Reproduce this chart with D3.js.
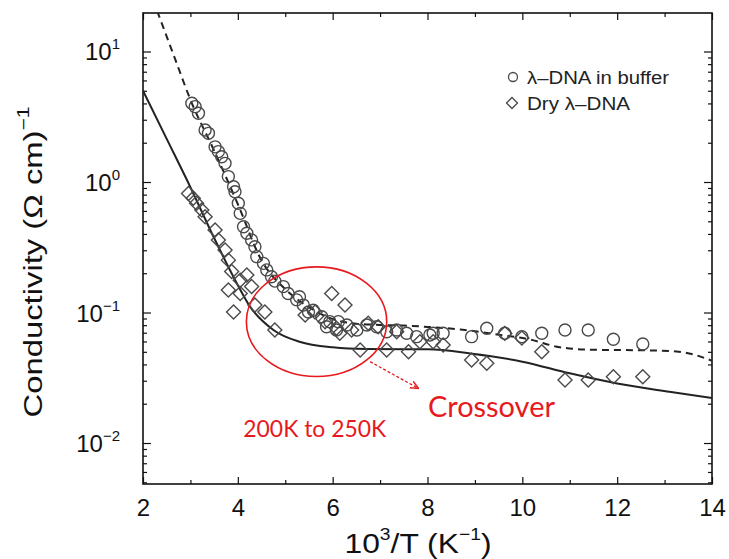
<!DOCTYPE html>
<html><head><meta charset="utf-8">
<script src="https://cdn.jsdelivr.net/npm/d3@7"></script>
<style>
body{margin:0;background:#fff}
svg{display:block;font-family:"Liberation Sans",Arial,Helvetica,sans-serif}
</style>
</head><body><svg id="c" width="729" height="559"></svg>
<script>
// ---- data ----
const bufferX = [3.03,3.10,3.17,3.31,3.38,3.52,3.59,3.66,3.73,3.80,3.91,3.94,4.01,4.05,4.12,4.19,4.29,4.36,4.40,4.54,4.61,4.71,4.78,4.96,5.06,5.24,5.30,5.38,5.49,5.59,5.77,5.87,5.94,6.08,6.12,6.30,6.51,6.72,6.93,7.14,7.35,7.56,7.77,8.05,8.12,8.33,8.93,9.25,9.63,9.99,10.41,10.90,11.39,11.92,12.54];
const bufferY = [4.01,3.78,3.36,2.50,2.36,1.86,1.71,1.56,1.39,1.10,0.92,0.843,0.687,0.575,0.454,0.405,0.360,0.319,0.268,0.238,0.212,0.188,0.174,0.158,0.140,0.125,0.132,0.114,0.101,0.104,0.0929,0.0778,0.0851,0.0735,0.0851,0.0802,0.0735,0.0802,0.0778,0.0713,0.0735,0.0693,0.0653,0.0673,0.0693,0.0693,0.0653,0.0757,0.0693,0.0653,0.0693,0.0735,0.0735,0.0624,0.0574];
const dryX = [2.96,3.06,3.13,3.24,3.31,3.52,3.59,3.73,3.80,3.87,3.80,3.91,4.05,4.19,4.29,4.05,4.36,4.57,4.78,5.42,5.63,5.98,6.26,5.84,6.08,6.15,6.40,6.58,6.75,6.96,7.14,7.35,7.60,7.84,8.12,8.33,8.93,9.25,9.63,9.99,10.41,10.90,11.39,11.92,12.54];
const dryY = [0.818,0.750,0.687,0.610,0.542,0.429,0.360,0.301,0.252,0.206,0.149,0.101,0.177,0.194,0.158,0.140,0.114,0.101,0.0735,0.0957,0.101,0.140,0.114,0.0851,0.0757,0.0693,0.0735,0.0516,0.0826,0.0778,0.0516,0.0713,0.0501,0.0597,0.0597,0.0564,0.0433,0.0408,0.0692,0.0638,0.0501,0.0304,0.0304,0.0322,0.0322];
const fitBufferX = [2.3,2.7,3.0,3.5,4.0,4.5,5.0,5.5,6.0,6.5,7.0,7.5,8.0,8.7,9.5,10.2,10.7,11.4,12.6,13.3,14.0];
const fitBufferY = [20.4,8.32,4.27,1.74,0.676,0.251,0.151,0.110,0.0891,0.0822,0.0804,0.0794,0.0776,0.0741,0.0676,0.0617,0.0550,0.0519,0.0513,0.0501,0.0427];
const fitDryX = [2.0,2.5,3.0,3.5,4.0,4.25,4.75,5.3,6.0,6.7,8.0,8.9,10.0,11.0,12.0,13.1,14.0];
const fitDryY = [5.01,2.14,0.912,0.372,0.162,0.112,0.0735,0.0597,0.0541,0.0525,0.0522,0.0486,0.0420,0.0342,0.0286,0.0247,0.0221];
const xTicks = [2,4,6,8,10,12,14];
const xMinor = [3,5,7,9,11,13];
const yTicks = [0.01,0.1,1,10];
const yTickExp = ["\u22122","\u22121","0","1"];
const legendLabels = ["\u03bb\u2013DNA in buffer","Dry \u03bb\u2013DNA"];
const ellipseCenter = [5.66, 0.0851];
const ellipseHalfWidth = 1.48;   // in x units
const ellipseHalfHeightDec = 0.42; // in decades
const arrowFrom = [6.79, 0.042], arrowTo = [7.81, 0.0262];
const crossoverLabel = "Crossover", crossoverPos = [8.01, 0.0159];
const rangeLabel = "200K to 250K", rangePos = [4.115, 0.01117];

// ---- scales ----
const svg = d3.select("#c");
const x = d3.scaleLinear().domain([2,14]).range([143,712]);
const y = d3.scaleLog().domain([Math.pow(10,-2.314), Math.pow(10,1.295)]).range([484,13]);
const [x0,x1] = x.range(), [yb,yt] = y.range();

const defs = svg.append("defs");
defs.append("clipPath").attr("id","clip").append("rect")
  .attr("x",x0).attr("y",yt).attr("width",x1-x0).attr("height",yb-yt);
defs.append("marker").attr("id","arr").attr("viewBox","0 0 10 10").attr("refX",9).attr("refY",5)
  .attr("markerWidth",7).attr("markerHeight",7).attr("orient","auto")
  .append("path").attr("d","M0,1 L9,5 L0,9").attr("fill","none").attr("stroke","#e8191d").attr("stroke-width",1.6);

// minor y ticks
const yMinor = [];
for (let e=-3;e<=1;e++) for (let k=2;k<=9;k++){const v=k*Math.pow(10,e); if(v>y.domain()[0]&&v<y.domain()[1]) yMinor.push(v);}

function styleAxis(g){ g.select(".domain").remove(); g.selectAll("line").attr("stroke","#111").attr("stroke-width",1.2); }

svg.append("g").attr("transform",`translate(0,${yb})`).call(d3.axisBottom(x).tickValues(xTicks).tickSize(-7).tickSizeOuter(0).tickPadding(15).tickFormat(d3.format("d"))).call(styleAxis)
  .selectAll("text").attr("font-size",24).attr("fill","#111").attr("font-family","Liberation Sans, Arial, sans-serif");
svg.append("g").attr("transform",`translate(0,${yb})`).call(d3.axisBottom(x).tickValues(xMinor).tickSize(-4).tickFormat("")).call(styleAxis);
svg.append("g").attr("transform",`translate(0,${yt})`).call(d3.axisTop(x).tickValues(xTicks).tickSize(-7).tickFormat("")).call(styleAxis);
svg.append("g").attr("transform",`translate(0,${yt})`).call(d3.axisTop(x).tickValues(xMinor).tickSize(-4).tickFormat("")).call(styleAxis);
svg.append("g").attr("transform",`translate(${x0},0)`).call(d3.axisLeft(y).tickValues(yTicks).tickSize(-8).tickFormat("")).call(styleAxis);
svg.append("g").attr("transform",`translate(${x0},0)`).call(d3.axisLeft(y).tickValues(yMinor).tickSize(-4).tickFormat("")).call(styleAxis);
svg.append("g").attr("transform",`translate(${x1},0)`).call(d3.axisRight(y).tickValues(yTicks).tickSize(-8).tickFormat("")).call(styleAxis);
svg.append("g").attr("transform",`translate(${x1},0)`).call(d3.axisRight(y).tickValues(yMinor).tickSize(-4).tickFormat("")).call(styleAxis);

// y tick labels
yTicks.forEach((v,i)=>{
  const t = svg.append("text").attr("x",120).attr("y",y(v)+9).attr("text-anchor","end").attr("fill","#111").attr("font-size",24);
  t.append("tspan").text("10");
  t.append("tspan").attr("font-size",15).attr("dy",-11).text(yTickExp[i]);
});

// frame
svg.append("rect").attr("x",x0).attr("y",yt).attr("width",x1-x0).attr("height",yb-yt)
  .attr("fill","none").attr("stroke","#111").attr("stroke-width",1.6);

// fit lines
const plot = svg.append("g").attr("clip-path","url(#clip)");
const line = d3.line().x(d=>x(d[0])).y(d=>y(d[1])).curve(d3.curveMonotoneX);
plot.append("path").datum(fitBufferX.map((v,i)=>[v,fitBufferY[i]])).attr("d",line)
  .attr("fill","none").attr("stroke","#222").attr("stroke-width",2).attr("stroke-dasharray","7,5");
plot.append("path").datum(fitDryX.map((v,i)=>[v,fitDryY[i]])).attr("d",line)
  .attr("fill","none").attr("stroke","#222").attr("stroke-width",2);

// markers
const mcol = "#4a4a4a";
plot.selectAll("circle.buf").data(bufferX.map((v,i)=>[v,bufferY[i]])).join("circle").attr("class","buf")
  .attr("cx",d=>x(d[0])).attr("cy",d=>y(d[1])).attr("r",6).attr("fill","none").attr("stroke",mcol).attr("stroke-width",1.4);
const dia = s=>`M0,${-s}L${s},0L0,${s}L${-s},0Z`;
plot.selectAll("path.dry").data(dryX.map((v,i)=>[v,dryY[i]])).join("path").attr("class","dry")
  .attr("transform",d=>`translate(${x(d[0])},${y(d[1])})`).attr("d",dia(7)).attr("fill","none").attr("stroke",mcol).attr("stroke-width",1.4);

// legend
const lg = svg.append("g");
lg.append("circle").attr("cx",513).attr("cy",77).attr("r",4.5).attr("fill","none").attr("stroke",mcol).attr("stroke-width",1.3);
lg.append("path").attr("transform","translate(512,103)").attr("d",dia(5.5)).attr("fill","none").attr("stroke",mcol).attr("stroke-width",1.3);
lg.append("text").attr("x",527).attr("y",84).attr("font-size",18).attr("fill","#222").attr("textLength",142).attr("lengthAdjust","spacingAndGlyphs").text(legendLabels[0]);
lg.append("text").attr("x",527).attr("y",110).attr("font-size",18).attr("fill","#222").attr("textLength",103).attr("lengthAdjust","spacingAndGlyphs").text(legendLabels[1]);

// axis titles
const xt = svg.append("text").attr("x",418).attr("y",553).attr("text-anchor","middle").attr("font-size",28).attr("fill","#111")
  .attr("textLength",147).attr("lengthAdjust","spacingAndGlyphs");
xt.append("tspan").text("10");
xt.append("tspan").attr("font-size",17).attr("dy",-13).text("3");
xt.append("tspan").attr("dy",13).text("/T (K");
xt.append("tspan").attr("font-size",17).attr("dy",-13).text("\u22121");
xt.append("tspan").attr("dy",13).text(")");

const yt2 = svg.append("text").attr("transform","translate(42,262) rotate(-90)").attr("text-anchor","middle").attr("font-size",25).attr("fill","#111")
  .attr("textLength",311).attr("lengthAdjust","spacingAndGlyphs");
yt2.append("tspan").text("Conductivity (\u03a9 cm)");
yt2.append("tspan").attr("font-size",16).attr("dy",-13).text("\u22121");

// annotations
const red = "#e8191d";
const ecx = x(ellipseCenter[0]), ecy = y(ellipseCenter[1]);
const erx = x(ellipseCenter[0]+ellipseHalfWidth)-ecx;
const ery = y(ellipseCenter[1]/Math.pow(10,ellipseHalfHeightDec))-ecy;
svg.append("ellipse").attr("cx",ecx).attr("cy",ecy).attr("rx",erx).attr("ry",ery)
  .attr("fill","none").attr("stroke",red).attr("stroke-width",1.6);
svg.append("line").attr("x1",x(arrowFrom[0])).attr("y1",y(arrowFrom[1])).attr("x2",x(arrowTo[0])).attr("y2",y(arrowTo[1]))
  .attr("stroke",red).attr("stroke-width",1.3).attr("stroke-dasharray","3,2").attr("marker-end","url(#arr)");
svg.append("text").attr("x",x(crossoverPos[0])).attr("y",y(crossoverPos[1])).attr("font-family","Lato, 'Open Sans', sans-serif")
  .attr("font-size",28).attr("fill",red).attr("textLength",127).attr("lengthAdjust","spacingAndGlyphs").text(crossoverLabel);
svg.append("text").attr("x",x(rangePos[0])).attr("y",y(rangePos[1])).attr("font-family","Lato, 'Open Sans', sans-serif")
  .attr("font-size",23).attr("fill",red).attr("textLength",143).attr("lengthAdjust","spacingAndGlyphs").text(rangeLabel);
</script>
</body></html>
